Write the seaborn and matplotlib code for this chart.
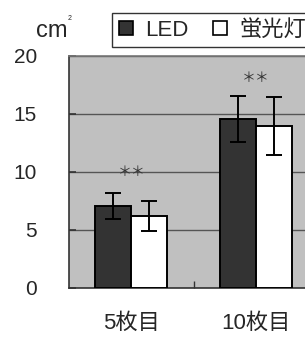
import matplotlib
matplotlib.use("Agg")
import matplotlib.pyplot as plt
import matplotlib.patches as mpatches
import numpy as np
import pandas as pd
import seaborn as sns

categories = ["5枚目", "10枚目"]
series = ["LED", "蛍光灯"]
led_mean = [7.05, 14.55]
led_err = [1.1, 2.0]
fl_mean = [6.2, 13.9]
fl_err = [1.3, 2.5]
star_y = [10.0, 18.1]
yticks = [0, 5, 10, 15, 20]

df = pd.DataFrame({
    "cat": categories * 2,
    "series": [series[0]] * 2 + [series[1]] * 2,
    "value": led_mean + fl_mean,
    "err": led_err + fl_err,
})

sns.set_style("white")
plt.rcParams["font.family"] = ["Liberation Sans", "Noto Sans CJK JP"]

fig = plt.figure(figsize=(3.05, 3.38), dpi=100)
ax = fig.add_axes([69 / 305, 50.3 / 338, 249 / 305, 232 / 338])
ax.set_facecolor("#c0c0c0")

colors = {"LED": "#333333", "蛍光灯": "#ffffff"}
sns.barplot(data=df, x="cat", y="value", hue="series", order=categories,
            hue_order=series, palette=colors, width=0.58, errorbar=None,
            edgecolor="black", linewidth=1.4, legend=False, ax=ax, zorder=3)

# error bars at bar centres
for bars, s in zip(ax.containers, series):
    sub = df[df["series"] == s].set_index("cat").loc[categories]
    xs = [b.get_x() + b.get_width() / 2 for b in bars]
    ax.errorbar(xs, sub["value"], yerr=sub["err"], fmt="none", ecolor="black",
                elinewidth=1.4, capsize=6, capthick=1.4, zorder=4)

for i, y in enumerate(star_y):
    ax.text(i, y, "＊＊", ha="center", va="center", fontsize=10,
            color="#333333", family="Noto Sans CJK JP", zorder=5)

ax.set_xlim(-0.5, 1.5)
ax.set_ylim(0, 20)
ax.set_yticks(yticks)
ax.yaxis.grid(True, color="#555555", linewidth=1.0, zorder=0)
ax.set_axisbelow(True)
ax.tick_params(axis="y", direction="in", length=5, width=1.2, color="#333333",
               pad=23, labelsize=15, left=True)
ax.tick_params(axis="x", which="major", length=0, pad=18, labelsize=16)
ax.set_xticks([0.5], minor=True)
ax.tick_params(axis="x", which="minor", direction="in", length=5, width=1.0,
               color="#333333", bottom=True)
ax.set_xlabel("")
ax.set_ylabel("")
for side in ["left", "bottom"]:
    ax.spines[side].set_color("#333333")
    ax.spines[side].set_linewidth(1.2)
ax.spines["top"].set_color("#777777")
ax.spines["top"].set_linewidth(1.2)
ax.spines["right"].set_visible(False)

fig.text(36 / 305, 1 - 37 / 338, "cm", fontsize=17, va="baseline", ha="left")
fig.text(68 / 305, 1 - 20 / 338, "2", fontsize=5, va="baseline", ha="left")

handles = [mpatches.Patch(facecolor=colors[s], edgecolor="black", linewidth=1.2)
           for s in series]
leg = fig.legend(handles, series, ncol=2, loc="upper left",
                 bbox_to_anchor=(112 / 305, 1 - 13 / 338), frameon=True,
                 fancybox=False, edgecolor="black", fontsize=16,
                 handlelength=0.63, handleheight=0.63, handletextpad=0.55,
                 columnspacing=1.1, borderaxespad=0, borderpad=0.3)
leg.get_frame().set_linewidth(1.0)

fig.savefig("out.png", dpi=100)
